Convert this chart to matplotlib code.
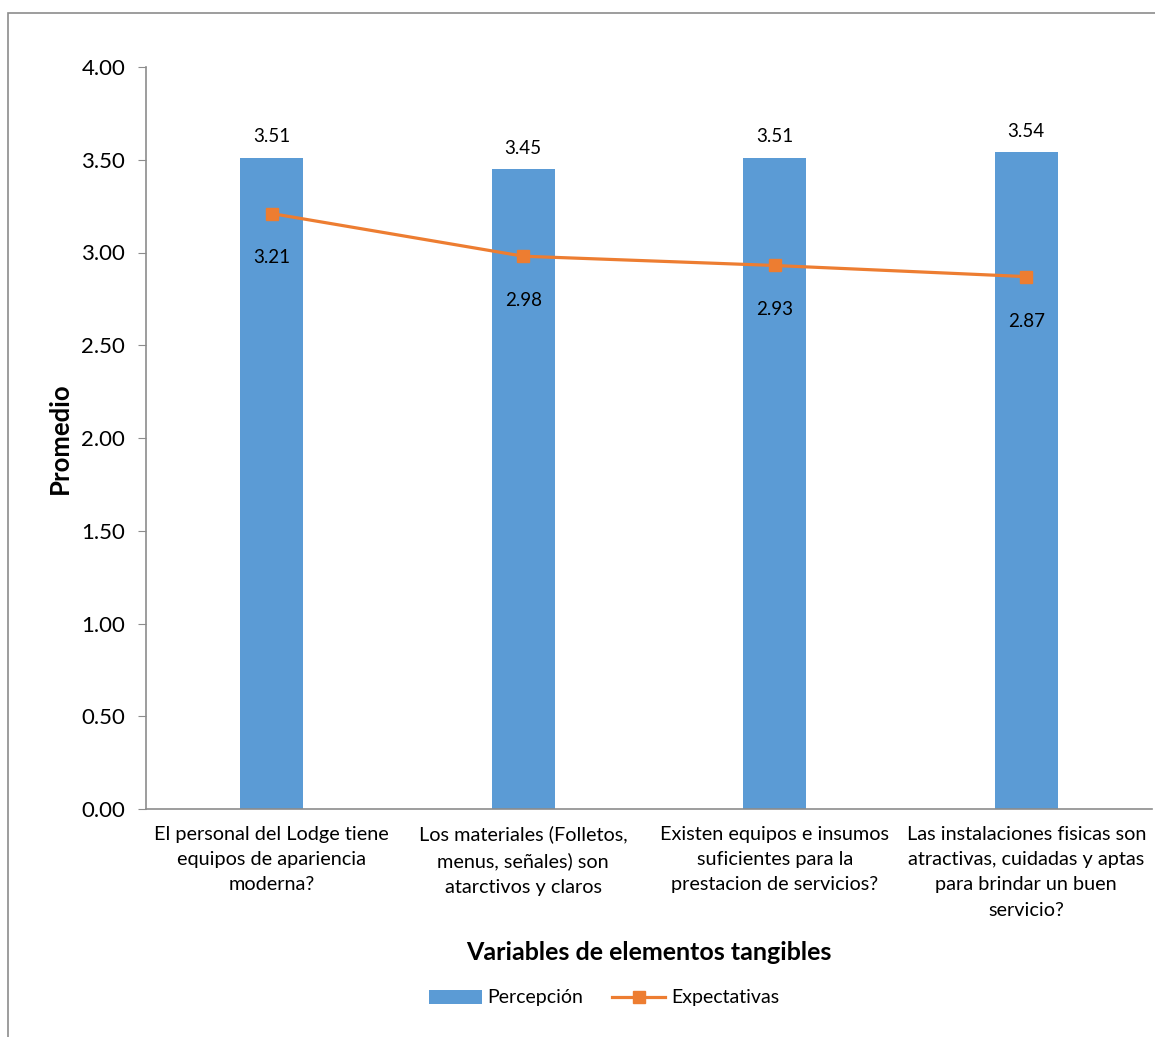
import matplotlib
matplotlib.use("Agg")
import matplotlib.pyplot as plt
from matplotlib.patches import Rectangle
from matplotlib.ticker import FormatStrFormatter

plt.rcParams['font.family'] = ['Lato', 'DejaVu Sans']

categories = [
    "El personal del Lodge tiene\nequipos de apariencia\nmoderna?",
    "Los materiales (Folletos,\nmenus, señales) son\natarctivos y claros",
    "Existen equipos e insumos\nsuficientes para la\nprestacion de servicios?",
    "Las instalaciones fisicas son\natractivas, cuidadas y aptas\npara brindar un buen\nservicio?",
]
percepcion = [3.51, 3.45, 3.51, 3.54]
expectativas = [3.21, 2.98, 2.93, 2.87]
yticks = [0.0, 0.5, 1.0, 1.5, 2.0, 2.5, 3.0, 3.5, 4.0]

W, H = 1155, 1037
fig = plt.figure(figsize=(W / 100, H / 100), dpi=100)
fig.patches.append(Rectangle((8 / W, -0.1), 1.2, (H - 13) / H + 0.1, transform=fig.transFigure,
                             fill=False, edgecolor='#8c8c8c', linewidth=1.2))

left, right, bottom, top = 146, 1152, 809, 67
ax = fig.add_axes([left / W, 1 - bottom / H, (right - left) / W, (bottom - top) / H])

x = list(range(len(categories)))
bar_color = '#5B9BD5'
line_color = '#ED7D31'
bars = ax.bar(x, percepcion, width=0.25, color=bar_color, label='Percepción', zorder=2)
line, = ax.plot(x, expectativas, color=line_color, linewidth=2.3, marker='s', markersize=9,
                label='Expectativas', zorder=3)

for xi, v in zip(x, percepcion):
    ax.annotate(f"{v:.2f}", (xi, v), xytext=(0, 9), textcoords='offset points',
                ha='center', va='bottom', fontsize=13.5, color='#000000')
for xi, v in zip(x, expectativas):
    ax.annotate(f"{v:.2f}", (xi, v), xytext=(0, -32), textcoords='offset points',
                ha='center', va='center', fontsize=13.5, color='#000000')

ax.set_xlim(-0.5, len(categories) - 0.5)
ax.set_ylim(0, 4)
ax.set_yticks(yticks)
ax.yaxis.set_major_formatter(FormatStrFormatter('%.2f'))
ax.tick_params(axis='y', labelsize=16, length=6, color='#8c8c8c', pad=9)
ax.set_xticks(x)
ax.set_xticklabels(categories, fontsize=14.3, linespacing=1.6)
ax.tick_params(axis='x', length=0, pad=12)

for s in ['top', 'right']:
    ax.spines[s].set_visible(False)
for s in ['left', 'bottom']:
    ax.spines[s].set_color('#8c8c8c')
    ax.spines[s].set_linewidth(1.2)

ax.set_ylabel('Promedio', fontsize=18.5, fontweight='bold')
ax.yaxis.set_label_coords((72 - left) / (right - left), 0.5)
fig.text(649 / W, 1 - 953 / H, 'Variables de elementos tangibles', ha='center', va='center',
         fontsize=18, fontweight='bold')

fig.legend([bars, line], ['Percepción', 'Expectativas'], loc='center',
           bbox_to_anchor=(604 / W, 1 - 998 / H), ncol=2,
           frameon=False, fontsize=14, handlelength=2.7, columnspacing=1.5, handletextpad=0.3)

fig.savefig('out.png', dpi=100)
